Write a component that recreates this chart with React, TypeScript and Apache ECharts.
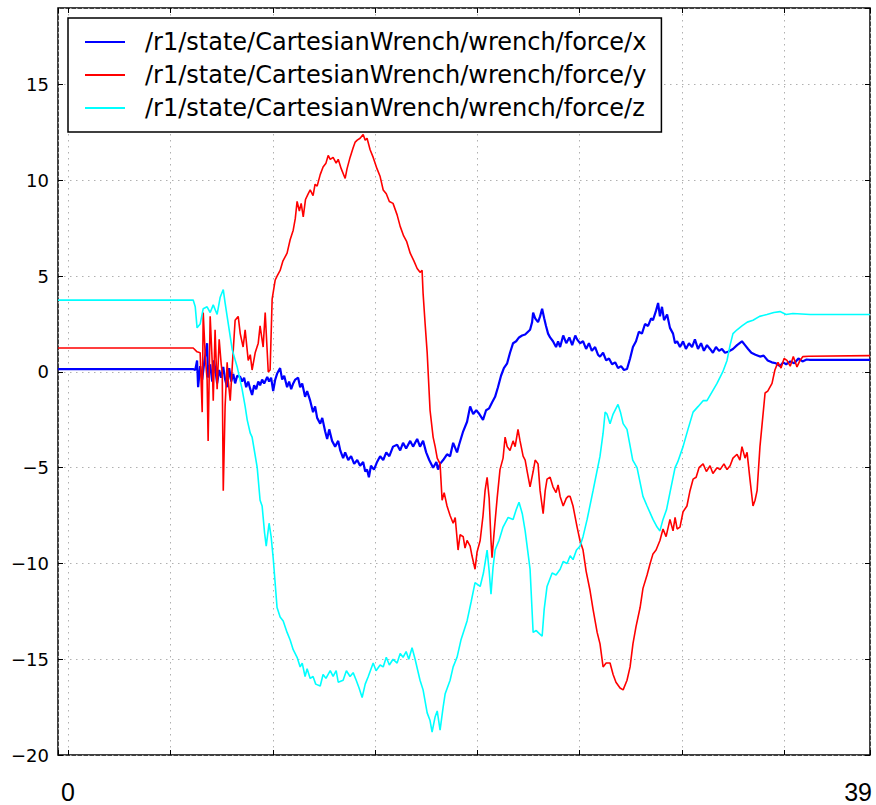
import React, { useEffect, useRef } from "react";
import * as echarts from "echarts";

const seriesNames = [
  "/r1/state/CartesianWrench/wrench/force/x",
  "/r1/state/CartesianWrench/wrench/force/y",
  "/r1/state/CartesianWrench/wrench/force/z",
];
const seriesColors = ["#0000ff", "#ff0000", "#00ffff"];
const seriesWidths = [2.2, 1.6, 1.6];

const xRange = [-0.5, 39.2];
const yRange = [-20, 19];
const yTickStep = 5;
const bottomLabels = ["0", "39"];

const forceX: [number, number][] = [
  [-0.5, 0.15], [6.1, 0.15], [6.21, 0.1], [6.3, 0.6], [6.35, -0.8], [6.45, 0.3], [6.55, -0.4], [6.65, 0.5], [6.79, 1.5], [6.84, -0.3],
  [6.94, 0.4], [7.04, -0.5], [7.13, 0.6], [7.28, -0.6], [7.38, 0.1], [7.48, -0.3], [7.58, 0.26], [7.67, -0.4], [7.77, -0.8], [7.87, 0.2],
  [7.97, -0.5], [8.07, -0.1], [8.16, -0.6], [8.26, -0.2], [8.41, -0.26], [8.5, -0.5], [8.6, -0.3], [8.7, -0.8], [8.8, -0.5], [8.9, -0.9],
  [8.99, -1.2], [9.09, -0.7], [9.19, -0.9], [9.29, -0.5], [9.38, -0.7], [9.48, -0.4], [9.58, -0.6], [9.73, -0.26], [9.82, -0.5], [9.92, -0.3],
  [10.02, -1.0], [10.12, -0.4], [10.21, -0.1], [10.36, 0.2], [10.46, -0.4], [10.56, -0.2], [10.7, -0.8], [10.8, -0.5], [10.9, -0.9], [11.0, -0.6],
  [11.1, -0.4], [11.24, -0.3], [11.34, -0.8], [11.44, -0.6], [11.58, -1.3], [11.68, -1.0], [11.83, -1.5], [11.97, -2.1], [12.07, -1.8], [12.17, -2.4],
  [12.32, -2.7], [12.42, -2.4], [12.56, -3.1], [12.66, -3.5], [12.76, -3.0], [12.9, -3.6], [13.05, -3.9], [13.2, -3.6], [13.3, -4.1], [13.44, -4.5],
  [13.54, -4.2], [13.69, -4.6], [13.83, -4.4], [13.98, -4.8], [14.13, -4.6], [14.27, -4.9], [14.42, -4.7], [14.52, -5.2], [14.61, -5.1], [14.7, -5.5],
  [14.8, -4.9], [14.95, -5.1], [15.1, -4.7], [15.25, -4.4], [15.4, -4.6], [15.55, -4.2], [15.7, -4.4], [15.88, -3.9], [16.08, -3.8], [16.23, -4.1],
  [16.37, -3.7], [16.52, -4.0], [16.72, -3.6], [16.86, -3.9], [17.06, -3.5], [17.2, -3.9], [17.35, -3.6], [17.5, -4.2], [17.65, -4.6], [17.84, -5.0],
  [18.0, -4.7], [18.08, -5.1], [18.18, -4.8], [18.33, -4.6], [18.52, -4.3], [18.67, -4.4], [18.82, -3.7], [19.01, -4.2], [19.11, -3.8], [19.31, -3.1],
  [19.5, -2.6], [19.65, -1.8], [19.8, -2.2], [19.95, -2.0], [20.1, -2.2], [20.28, -2.5], [20.43, -2.0], [20.58, -1.9], [20.72, -1.6], [20.87, -1.3],
  [21.01, -0.8], [21.16, -0.2], [21.3, 0.2], [21.46, 0.45], [21.6, 1.0], [21.75, 1.5], [21.9, 1.6], [22.04, 1.8], [22.19, 1.9], [22.34, 1.95],
  [22.48, 2.1], [22.58, 2.2], [22.68, 2.6], [22.73, 3.1], [22.83, 2.8], [22.97, 2.6], [23.07, 2.9], [23.17, 3.3], [23.27, 2.8], [23.36, 2.4],
  [23.46, 2.0], [23.56, 1.8], [23.7, 1.6], [23.85, 1.3], [23.95, 1.6], [24.05, 1.3], [24.2, 1.9], [24.35, 1.5], [24.5, 1.8], [24.64, 1.4],
  [24.79, 1.9], [24.88, 1.7], [25.02, 1.5], [25.17, 1.6], [25.32, 1.2], [25.46, 1.5], [25.6, 1.1], [25.76, 1.3], [25.9, 0.9], [26.0, 0.8],
  [26.15, 1.0], [26.3, 0.6], [26.44, 0.7], [26.59, 0.4], [26.74, 0.5], [26.88, 0.2], [27.03, 0.3], [27.17, 0.1], [27.32, 0.15], [27.47, 0.7],
  [27.61, 1.3], [27.76, 1.6], [27.9, 2.1], [28.05, 2.0], [28.2, 2.5], [28.35, 2.4], [28.5, 2.8], [28.59, 2.7], [28.74, 3.2], [28.84, 3.6],
  [28.93, 2.9], [29.03, 3.4], [29.13, 2.7], [29.28, 3.0], [29.42, 2.3], [29.57, 2.0], [29.67, 1.5], [29.77, 1.6], [29.91, 1.3], [30.06, 1.6],
  [30.2, 1.2], [30.35, 1.5], [30.5, 1.3], [30.64, 1.7], [30.79, 1.2], [30.94, 1.5], [31.08, 1.1], [31.23, 1.4], [31.38, 1.2], [31.52, 1.0],
  [31.67, 1.3], [31.82, 1.1], [31.96, 1.2], [32.11, 1.0], [32.26, 1.05], [32.5, 1.2], [32.7, 1.4], [32.94, 1.6], [33.09, 1.4], [33.24, 1.2],
  [33.4, 1.0], [33.6, 0.9], [33.82, 0.8], [34.0, 0.85], [34.2, 0.6], [34.4, 0.5], [34.6, 0.45], [34.8, 0.3], [34.95, 0.5], [35.1, 0.4],
  [35.3, 0.55], [35.5, 0.45], [35.7, 0.7], [35.9, 0.55], [36.1, 0.65], [36.27, 0.63], [39.2, 0.63],
];

const forceY: [number, number][] = [
  [-0.5, 1.25], [6.11, 1.25], [6.3, 1.05], [6.45, 1.0], [6.55, -2.1], [6.6, 3.1], [6.7, 0.8], [6.79, -0.4], [6.84, -3.6], [6.94, 2.9],
  [7.04, 0.5], [7.09, -1.5], [7.18, 2.2], [7.28, -0.9], [7.38, 1.7], [7.48, 0.4], [7.53, -0.05], [7.58, -6.2], [7.67, -1.8], [7.77, 0.5],
  [7.82, -0.4], [7.92, -1.5], [8.02, 0.3], [8.16, 2.7], [8.31, 2.9], [8.41, 2.0], [8.55, 1.3], [8.65, 2.2], [8.8, 0.6], [8.9, 0.9],
  [8.99, 0.1], [9.14, 1.0], [9.29, 1.5], [9.38, 2.4], [9.53, 1.3], [9.63, 3.1], [9.78, 0.0], [9.87, 0.1], [9.97, 3.8], [10.12, 4.8],
  [10.21, 5.0], [10.36, 5.3], [10.5, 5.8], [10.7, 6.2], [10.85, 6.9], [11.0, 7.4], [11.1, 8.0], [11.19, 8.9], [11.3, 8.4], [11.39, 8.8],
  [11.49, 8.1], [11.6, 9.0], [11.73, 9.3], [11.83, 9.5], [11.97, 9.2], [12.07, 9.8], [12.17, 9.7], [12.32, 10.3], [12.46, 10.7], [12.6, 10.9],
  [12.71, 11.3], [12.81, 11.1], [12.95, 11.2], [13.1, 10.9], [13.2, 11.1], [13.35, 10.6], [13.54, 10.1], [13.63, 10.6], [13.78, 11.2], [13.93, 11.7],
  [14.03, 12.0], [14.13, 12.1], [14.27, 12.2], [14.42, 12.4], [14.52, 12.1], [14.61, 12.2], [14.76, 11.6], [14.91, 11.2], [15.1, 10.6], [15.25, 10.2],
  [15.4, 9.5], [15.55, 9.3], [15.7, 8.9], [15.88, 8.8], [16.08, 8.2], [16.23, 7.6], [16.4, 7.1], [16.55, 6.8], [16.72, 6.2], [16.9, 5.8],
  [17.06, 5.4], [17.2, 5.2], [17.3, 5.3], [17.35, 4.1], [17.45, 2.5], [17.55, 1.0], [17.69, -2.0], [17.84, -3.4], [17.94, -3.9], [18.04, -4.5],
  [18.18, -4.8], [18.28, -6.7], [18.38, -6.3], [18.52, -7.0], [18.67, -7.5], [18.82, -7.9], [18.92, -7.6], [19.06, -9.3], [19.16, -8.5], [19.31, -8.6],
  [19.4, -9.2], [19.5, -8.8], [19.65, -9.1], [19.74, -9.6], [19.89, -10.3], [19.99, -9.4], [20.14, -8.8], [20.28, -7.5], [20.38, -6.2], [20.48, -5.5],
  [20.58, -6.6], [20.67, -8.8], [20.72, -9.7], [20.82, -8.4], [20.97, -6.6], [21.11, -5.1], [21.26, -4.5], [21.36, -3.4], [21.46, -3.9], [21.6, -4.1],
  [21.75, -3.6], [21.85, -3.9], [21.99, -3.0], [22.09, -3.6], [22.24, -4.4], [22.34, -4.6], [22.44, -5.2], [22.58, -6.0], [22.73, -5.2], [22.83, -4.6],
  [22.97, -4.8], [23.07, -6.2], [23.22, -7.4], [23.32, -6.2], [23.41, -5.6], [23.56, -5.5], [23.7, -6.0], [23.85, -6.3], [23.95, -5.9], [24.05, -6.5],
  [24.2, -7.0], [24.35, -6.6], [24.44, -6.5], [24.54, -6.5], [24.68, -7.0], [24.88, -8.1], [25.02, -8.8], [25.17, -9.3], [25.32, -10.4], [25.51, -11.4],
  [25.66, -12.4], [25.86, -13.6], [26.0, -14.2], [26.15, -15.4], [26.3, -15.2], [26.49, -15.2], [26.64, -15.8], [26.78, -16.2], [26.98, -16.5], [27.13, -16.6],
  [27.32, -16.1], [27.47, -15.4], [27.61, -14.2], [27.76, -13.3], [27.96, -12.3], [28.1, -11.3], [28.3, -10.6], [28.45, -10.0], [28.59, -9.5], [28.74, -9.3],
  [28.93, -8.8], [29.08, -8.2], [29.23, -8.6], [29.42, -7.7], [29.57, -8.3], [29.67, -7.6], [29.77, -8.2], [29.91, -8.1], [30.06, -7.3], [30.25, -7.0],
  [30.4, -6.2], [30.55, -5.6], [30.7, -5.5], [30.84, -5.0], [31.04, -4.8], [31.2, -5.2], [31.38, -4.9], [31.52, -5.3], [31.72, -5.0], [31.87, -5.1],
  [32.06, -4.8], [32.21, -5.1], [32.36, -4.9], [32.5, -4.5], [32.7, -4.3], [32.84, -4.6], [32.94, -3.9], [33.09, -4.5], [33.19, -4.2], [33.33, -5.6],
  [33.48, -7.0], [33.58, -6.7], [33.68, -6.2], [33.82, -3.9], [34.07, -1.1], [34.2, -1.0], [34.41, -0.6], [34.55, 0.1], [34.7, 0.5], [34.85, 0.2],
  [35.0, 0.7], [35.14, 0.6], [35.3, 0.3], [35.45, 0.8], [35.63, 0.26], [35.78, 0.6], [35.92, 0.8], [36.2, 0.82], [39.2, 0.85],
];

const forceZ: [number, number][] = [
  [-0.5, 3.75], [6.11, 3.75], [6.21, 3.4], [6.3, 2.3], [6.45, 2.5], [6.6, 3.3], [6.79, 3.4], [6.94, 3.1], [7.09, 3.5], [7.28, 3.0],
  [7.43, 3.9], [7.58, 4.3], [7.67, 3.6], [7.77, 2.9], [8.02, 1.15], [8.26, 0.26], [8.5, -0.9], [8.65, -1.8], [8.75, -2.5], [8.9, -3.2],
  [8.99, -3.4], [9.24, -5.0], [9.38, -6.7], [9.48, -7.0], [9.6, -8.4], [9.68, -9.1], [9.82, -7.9], [9.92, -8.6], [10.02, -9.7], [10.21, -12.3],
  [10.36, -12.8], [10.51, -13.0], [10.7, -13.6], [10.85, -14.0], [11.0, -14.5], [11.19, -14.9], [11.34, -15.4], [11.44, -15.2], [11.58, -15.9], [11.68, -15.5],
  [11.83, -16.0], [11.97, -15.9], [12.1, -16.3], [12.32, -16.4], [12.46, -15.8], [12.6, -16.0], [12.81, -15.6], [12.95, -15.9], [13.1, -15.6], [13.2, -16.2],
  [13.44, -16.1], [13.6, -15.6], [13.78, -15.9], [13.93, -15.7], [14.08, -16.1], [14.22, -16.5], [14.37, -17.0], [14.52, -16.3], [14.67, -15.9], [14.91, -15.2],
  [15.05, -15.6], [15.25, -15.3], [15.4, -15.4], [15.55, -14.9], [15.7, -15.3], [15.88, -15.0], [16.08, -15.2], [16.23, -14.7], [16.37, -14.9], [16.52, -14.6],
  [16.65, -15.0], [16.81, -14.4], [16.96, -15.0], [17.2, -16.1], [17.35, -16.6], [17.55, -17.8], [17.69, -18.2], [17.79, -18.8], [17.94, -18.0], [18.04, -17.7],
  [18.18, -18.7], [18.33, -17.5], [18.43, -16.8], [18.67, -16.1], [18.82, -15.4], [19.01, -14.9], [19.2, -14.0], [19.5, -13.0], [19.7, -12.0], [19.89, -11.0],
  [20.14, -11.2], [20.3, -10.5], [20.48, -9.3], [20.58, -10.4], [20.67, -11.6], [20.77, -10.2], [20.87, -9.3], [21.06, -8.8], [21.26, -8.1], [21.51, -7.6],
  [21.75, -7.7], [21.9, -7.2], [22.04, -6.8], [22.2, -7.4], [22.34, -8.3], [22.58, -10.3], [22.73, -13.6], [22.88, -13.5], [22.97, -13.6], [23.17, -13.8],
  [23.27, -12.4], [23.41, -11.2], [23.66, -10.5], [23.85, -10.6], [24.05, -10.3], [24.2, -9.9], [24.39, -10.0], [24.54, -9.6], [24.68, -9.8], [24.85, -9.3],
  [25.02, -9.1], [25.17, -8.6], [25.37, -7.7], [25.66, -6.2], [26.0, -4.4], [26.15, -3.2], [26.25, -2.1], [26.34, -2.2], [26.49, -2.7], [26.64, -2.2],
  [26.88, -1.7], [27.0, -2.1], [27.13, -2.7], [27.32, -3.0], [27.6, -4.6], [27.81, -5.0], [28.1, -6.5], [28.3, -7.0], [28.59, -7.7], [28.79, -8.1],
  [28.93, -8.3], [29.08, -7.7], [29.25, -7.2], [29.42, -6.3], [29.67, -5.0], [29.8, -4.7], [30.06, -3.9], [30.3, -3.0], [30.55, -2.1], [30.8, -1.8],
  [31.04, -1.5], [31.23, -1.5], [31.5, -1.0], [31.72, -0.6], [32.0, 0.0], [32.21, 0.6], [32.36, 1.4], [32.5, 2.0], [32.7, 2.2], [32.94, 2.4],
  [33.2, 2.6], [33.48, 2.7], [33.8, 2.9], [34.16, 3.0], [34.5, 3.1], [34.8, 3.15], [35.1, 3.0], [35.43, 3.05], [36.27, 3.0], [39.2, 3.0],
];

const seriesData = [forceX, forceY, forceZ];

const fmtY = (v: number) => (v < 0 ? "\u2212" + Math.abs(v) : String(v));

export default function App() {
  const ref = useRef<HTMLDivElement>(null);
  useEffect(() => {
    if (!ref.current) return;
    const chart = echarts.init(ref.current, undefined, { renderer: "svg" });
    const gridLine = { show: true, lineStyle: { color: "#b0b0b0", type: [1.5, 4.5] as any, width: 1 } };
    const tick = { show: true, inside: true, length: 5, lineStyle: { color: "#000", width: 1 } };
    chart.setOption({
      animation: false,
      backgroundColor: "#ffffff",
      grid: { left: 58, right: 6, top: 8, bottom: 50, show: true, borderColor: "#000", borderWidth: 1.5, backgroundColor: "transparent" },
      legend: {
        orient: "vertical",
        left: 68,
        top: 18,
        padding: [12, 15, 12, 17],
        itemGap: 9,
        itemWidth: 40,
        itemHeight: 2,
        icon: "rect",
        borderColor: "#000",
        borderWidth: 1.5,
        backgroundColor: "#fff",
        textStyle: { fontFamily: "DejaVu Sans", fontSize: 24, color: "#000", lineHeight: 24, padding: [0, 0, 0, 15] },
        data: seriesNames,
      },
      xAxis: [
        {
          type: "value",
          min: xRange[0],
          max: xRange[1],
          splitNumber: 8,
          axisLine: { show: false, onZero: false },
          axisTick: tick,
          axisLabel: { show: false },
          splitLine: gridLine,
        },
        {
          type: "value",
          position: "top",
          min: xRange[0],
          max: xRange[1],
          splitNumber: 8,
          axisLine: { show: false, onZero: false },
          axisTick: tick,
          axisLabel: { show: false },
          splitLine: { show: false },
        },
      ],
      yAxis: [
        {
          type: "value",
          min: yRange[0],
          max: yRange[1],
          interval: yTickStep,
          axisLine: { show: false, onZero: false },
          axisTick: tick,
          axisLabel: {
            showMaxLabel: false,
            margin: 9,
            fontFamily: "DejaVu Sans",
            fontSize: 18,
            color: "#000",
            formatter: fmtY,
          },
          splitLine: gridLine,
        },
        {
          type: "value",
          position: "right",
          min: yRange[0],
          max: yRange[1],
          interval: yTickStep,
          axisLine: { show: false, onZero: false },
          axisTick: tick,
          axisLabel: { show: false },
          splitLine: { show: false },
        },
      ],
      graphic: [
        {
          type: "text",
          x: 68,
          y: 792,
          style: { text: bottomLabels[0], fontFamily: "Liberation Sans", fontSize: 25, fill: "#000", align: "center", verticalAlign: "middle" },
        },
        {
          type: "text",
          x: 872,
          y: 792,
          style: { text: bottomLabels[1], fontFamily: "Liberation Sans", fontSize: 25, fill: "#000", align: "right", verticalAlign: "middle" },
        },
      ],
      series: seriesNames.map((name, i) => ({
        name,
        type: "line",
        data: seriesData[i],
        showSymbol: false,
        symbol: "none",
        lineStyle: { color: seriesColors[i], width: seriesWidths[i] },
        itemStyle: { color: seriesColors[i] },
        z: 2 + i,
      })),
    });
    return () => chart.dispose();
  }, []);
  return <div ref={ref} style={{ position: "absolute", left: 0, top: 0, width: 876, height: 805 }} />;
}
